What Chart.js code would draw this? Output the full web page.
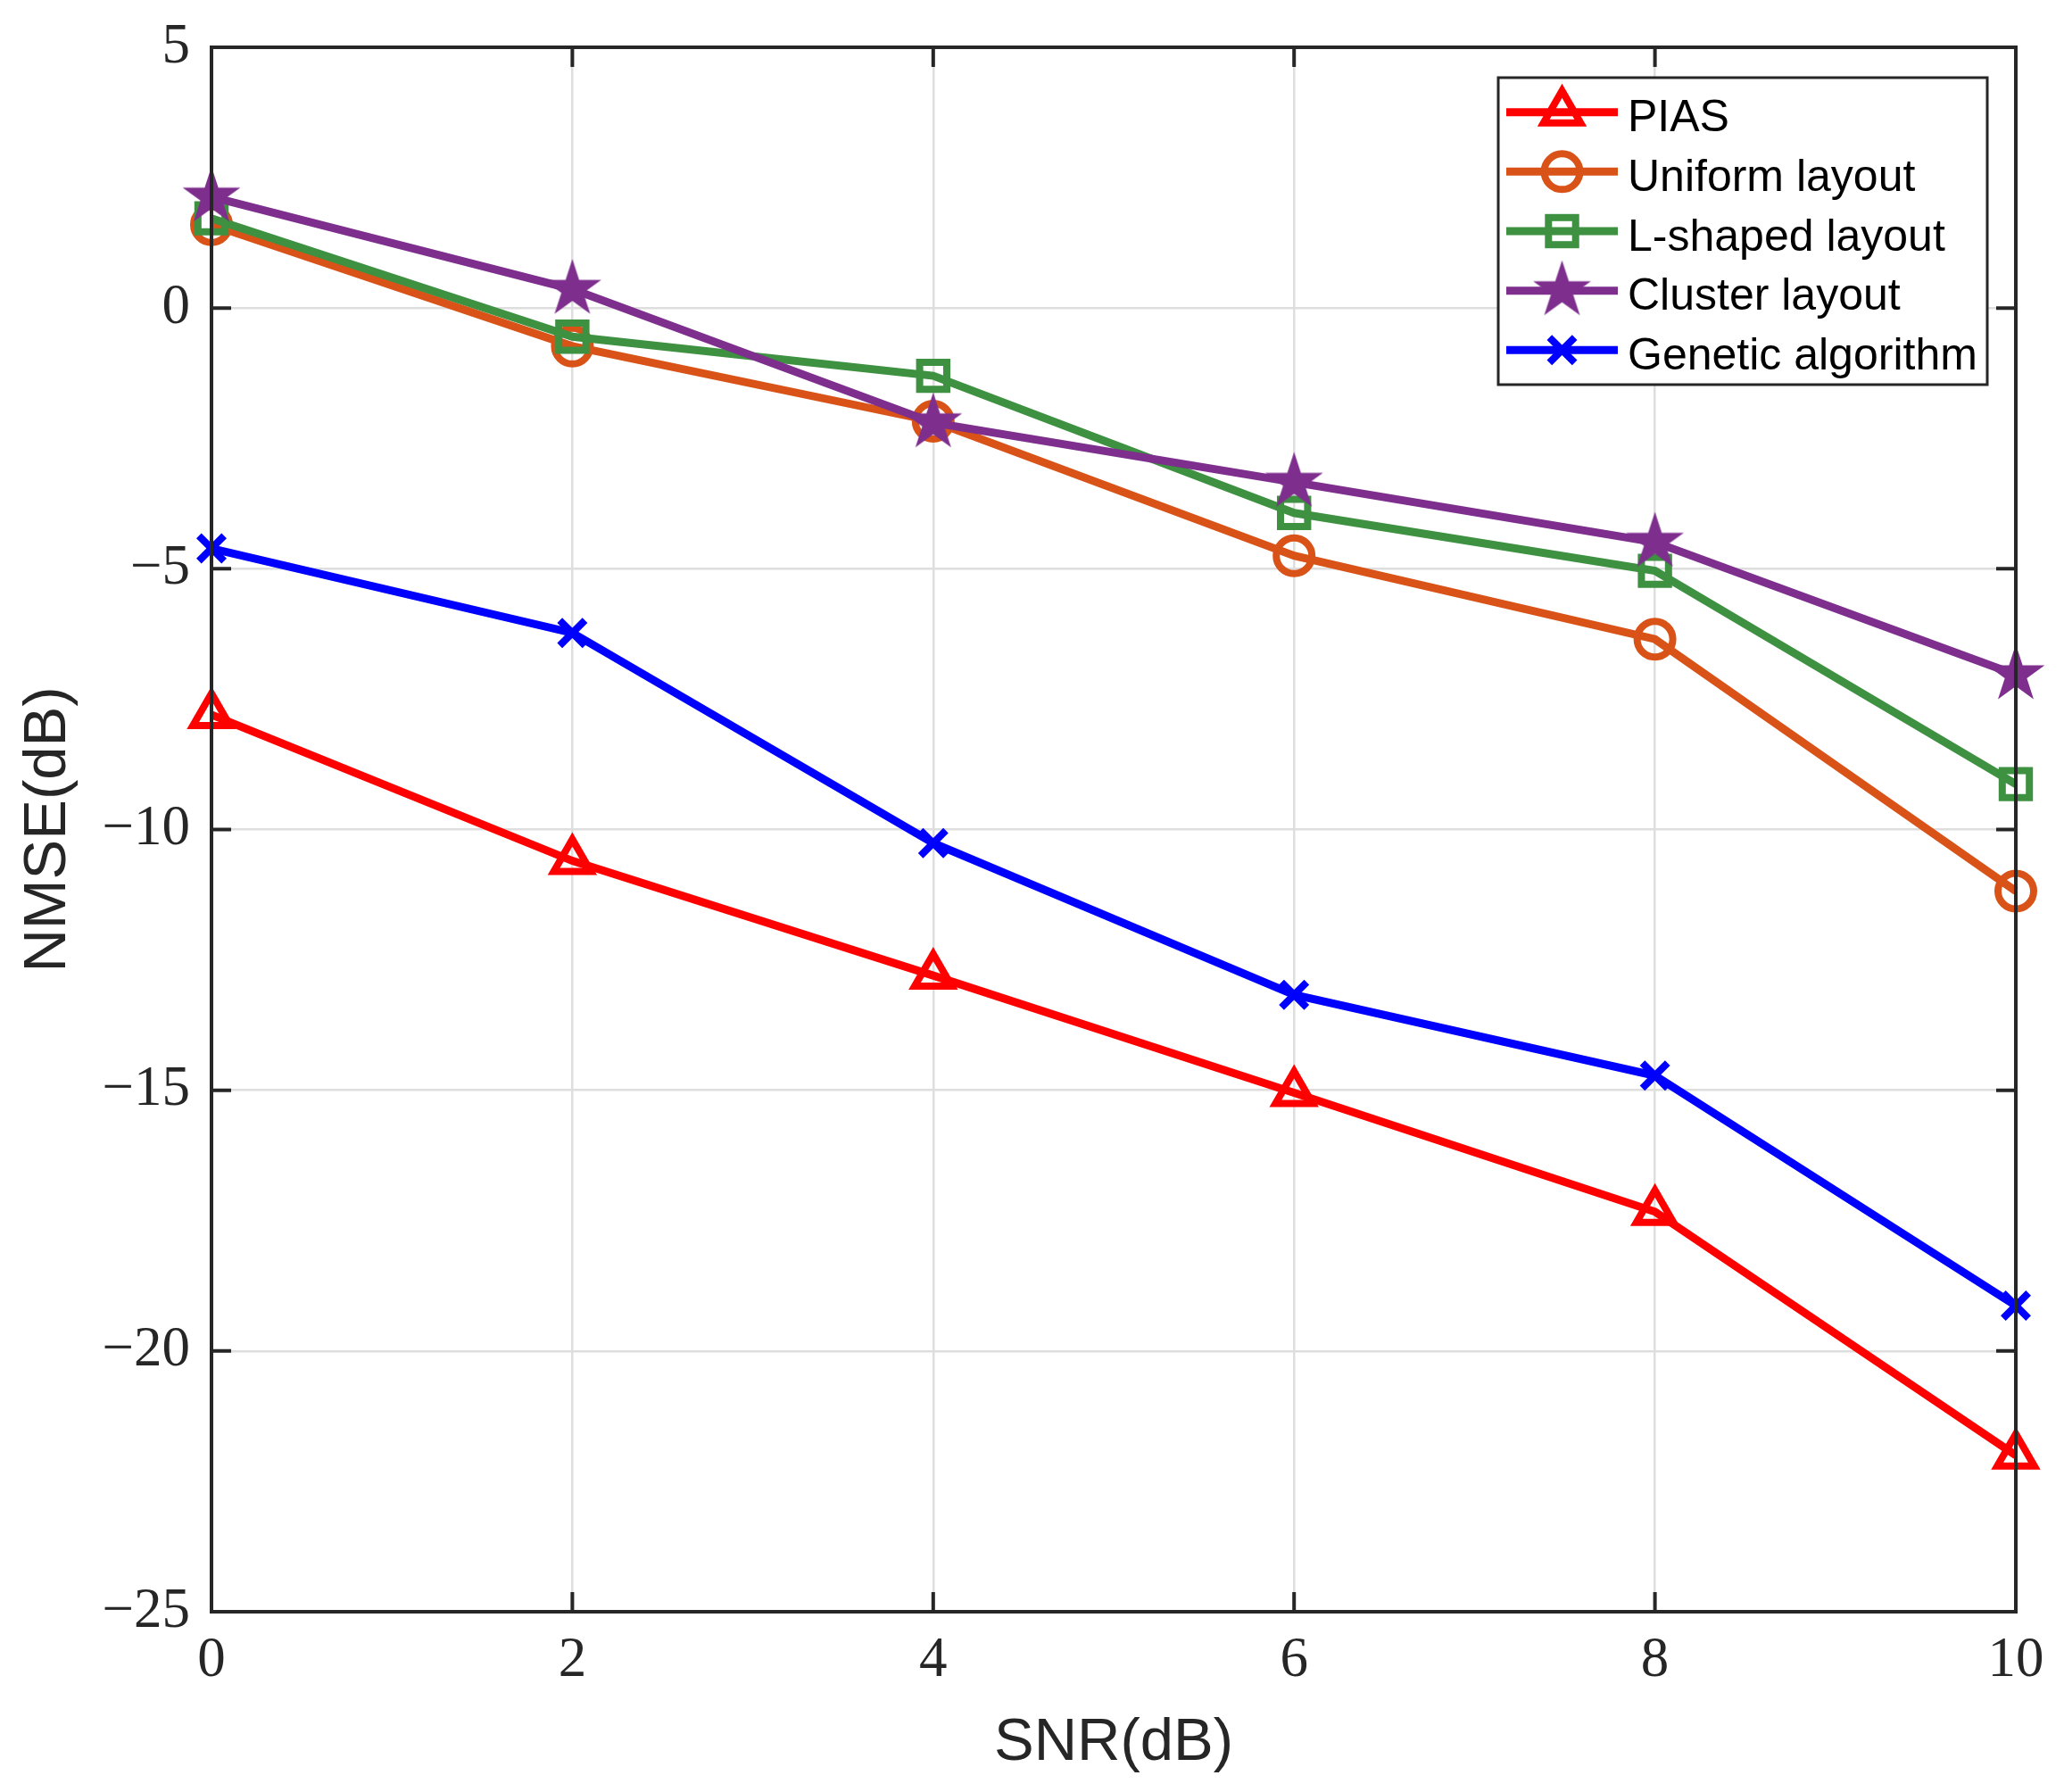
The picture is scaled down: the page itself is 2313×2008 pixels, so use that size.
<!DOCTYPE html>
<html><head><meta charset="utf-8">
<script src="https://cdn.jsdelivr.net/npm/chart.js@4.4.1/dist/chart.umd.min.js"></script>
<style>html,body{margin:0;padding:0;background:#fff}canvas{display:block}</style>
</head><body>
<canvas id="c" width="2313" height="2008"></canvas>
<script>
// ---- data ----
const snr = [0, 2, 4, 6, 8, 10];
const pias = [-7.8, -10.6, -12.8, -15.05, -17.33, -22.0];
const uniform = [1.6, -0.73, -2.17, -4.75, -6.35, -11.18];
const lshaped = [1.72, -0.55, -1.3, -3.93, -5.04, -9.13];
const cluster = [2.13, 0.36, -2.2, -3.34, -4.49, -7.03];
const genetic = [-4.61, -6.23, -10.26, -13.17, -14.72, -19.13];
const seriesNames = ['PIAS', 'Uniform layout', 'L-shaped layout', 'Cluster layout', 'Genetic algorithm'];
const xTicks = [0, 2, 4, 6, 8, 10];
const yTicks = [5, 0, -5, -10, -15, -20, -25];
const xTitle = 'SNR(dB)';
const yTitle = 'NMSE(dB)';

// ---- styles ----
const colors = ['#FF0000', '#D95319', '#3D9140', '#7E2F8E', '#0000FF'];
const TEXT = '#262626';
const LINE_W = 9;
const MARK_W = 8;

function makeStar(color, R) {
  const s = Math.ceil(2 * R + 4);
  const c = document.createElement('canvas'); c.width = s; c.height = s;
  const g = c.getContext('2d');
  const cx = s / 2, cy = s / 2, r = R * 0.382;
  g.beginPath();
  for (let i = 0; i < 10; i++) {
    const a = -Math.PI / 2 + i * Math.PI / 5;
    const rr = i % 2 ? r : R;
    g.lineTo(cx + rr * Math.cos(a), cy + rr * Math.sin(a));
  }
  g.closePath(); g.fillStyle = color; g.fill();
  return c;
}
const starImg = makeStar(colors[3], 34);
const pointStyles = ['triangle', 'circle', 'rect', starImg, 'crossRot'];
const radii = [24, 20, 21.5, 30, 20];
const allValues = [pias, uniform, lshaped, cluster, genetic];

const fmt = v => (v < 0 ? '\u2212' + Math.abs(v) : String(v));

const datasets = allValues.map((vals, i) => ({
  label: seriesNames[i],
  data: snr.map((x, k) => ({ x: x, y: vals[k] })),
  borderColor: colors[i],
  backgroundColor: colors[i],
  borderWidth: LINE_W,
  pointStyle: pointStyles[i],
  pointRadius: radii[i],
  pointBorderWidth: MARK_W,
  pointBorderColor: colors[i],
  pointBackgroundColor: 'rgba(0,0,0,0)',
  tension: 0,
  clip: false,
  order: 4 - i
}));

function drawMarker(ctx, style, r, x, y, color) {
  ctx.save();
  ctx.strokeStyle = color; ctx.lineWidth = MARK_W;
  if (typeof style === 'object') {
    ctx.drawImage(style, x - style.width / 2, y - style.height / 2);
  } else if (style === 'triangle') {
    ctx.beginPath();
    for (let k = 0; k < 3; k++) {
      const a = k * 2 * Math.PI / 3;
      ctx.lineTo(x + Math.sin(a) * r, y - Math.cos(a) * r);
    }
    ctx.closePath(); ctx.stroke();
  } else if (style === 'circle') {
    ctx.beginPath(); ctx.arc(x, y, r, 0, 2 * Math.PI); ctx.stroke();
  } else if (style === 'rect') {
    const s = Math.SQRT1_2 * r;
    ctx.strokeRect(x - s, y - s, 2 * s, 2 * s);
  } else if (style === 'crossRot') {
    const o = Math.SQRT1_2 * r;
    ctx.beginPath();
    ctx.moveTo(x - o, y - o); ctx.lineTo(x + o, y + o);
    ctx.moveTo(x - o, y + o); ctx.lineTo(x + o, y - o);
    ctx.stroke();
  }
  ctx.restore();
}

const boxPlugin = {
  id: 'box',
  afterDatasetsDraw(chart) {
    const ctx = chart.ctx;
    const { left, right, top, bottom } = chart.chartArea;
    const xs = chart.scales.x, ys = chart.scales.y;
    ctx.save();
    ctx.strokeStyle = TEXT; ctx.lineWidth = 4;
    ctx.beginPath();
    xTicks.forEach(v => {
      const px = xs.getPixelForValue(v);
      ctx.moveTo(px, bottom); ctx.lineTo(px, bottom - 22);
      ctx.moveTo(px, top); ctx.lineTo(px, top + 22);
    });
    yTicks.forEach(v => {
      const py = ys.getPixelForValue(v);
      ctx.moveTo(left, py); ctx.lineTo(left + 22, py);
      ctx.moveTo(right, py); ctx.lineTo(right - 22, py);
    });
    ctx.stroke();
    ctx.strokeRect(left, top, right - left, bottom - top);
    ctx.restore();
  }
};

const legendPlugin = {
  id: 'matlabLegend',
  afterDraw(chart) {
    const ctx = chart.ctx;
    const bx = 1679, by = 87, bw = 548, bh = 344;
    ctx.save();
    ctx.fillStyle = '#fff';
    ctx.fillRect(bx, by, bw, bh);
    ctx.strokeStyle = TEXT; ctx.lineWidth = 3;
    ctx.strokeRect(bx, by, bw, bh);
    chart.data.datasets.forEach((ds, i) => {
      const cy = 125.7 + i * 66.65;
      ctx.strokeStyle = ds.borderColor; ctx.lineWidth = LINE_W;
      ctx.beginPath(); ctx.moveTo(1688, cy); ctx.lineTo(1813, cy); ctx.stroke();
      drawMarker(ctx, ds.pointStyle, ds.pointRadius, 1750.5, cy, ds.borderColor);
      ctx.fillStyle = '#000';
      ctx.font = '50px "Liberation Sans", Arial, sans-serif';
      ctx.textBaseline = 'alphabetic'; ctx.textAlign = 'left';
      ctx.fillText(ds.label, 1824, cy + 21.6);
    });
    ctx.restore();
  }
};

new Chart(document.getElementById('c'), {
  type: 'line',
  data: { datasets: datasets },
  plugins: [boxPlugin, legendPlugin],
  options: {
    responsive: false, animation: false, devicePixelRatio: 1,
    layout: { padding: { left: 0, right: 54, top: 53, bottom: 0 } },
    plugins: { legend: { display: false }, tooltip: { enabled: false } },
    scales: {
      x: {
        type: 'linear', min: 0, max: 10,
        afterBuildTicks: s => { s.ticks = xTicks.map(v => ({ value: v })); },
        afterFit: s => { s.height = 202; s.paddingLeft = 0; s.paddingRight = 0; },
        grid: { color: '#dedede', lineWidth: 2.5, drawTicks: false },
        border: { display: false },
        ticks: { font: { family: '"Liberation Serif", serif', size: 63 }, color: TEXT, padding: 18, maxRotation: 0, autoSkip: false, callback: fmt },
        title: { display: true, text: xTitle, font: { family: '"Liberation Sans", Arial, sans-serif', size: 67 }, color: TEXT, padding: { top: 0, bottom: 14 } }
      },
      y: {
        type: 'linear', min: -25, max: 5,
        afterBuildTicks: s => { s.ticks = yTicks.slice().reverse().map(v => ({ value: v })); },
        afterFit: s => { s.width = 237; s.paddingTop = 0; s.paddingBottom = 0; },
        grid: { color: '#dedede', lineWidth: 2.5, drawTicks: false },
        border: { display: false },
        ticks: { font: { family: '"Liberation Serif", serif', size: 63 }, color: TEXT, padding: 24, autoSkip: false, callback: fmt },
        title: { display: true, text: yTitle, font: { family: '"Liberation Sans", Arial, sans-serif', size: 67 }, color: TEXT, padding: { top: 14, bottom: 0 } }
      }
    }
  }
});
</script>
</body></html>
